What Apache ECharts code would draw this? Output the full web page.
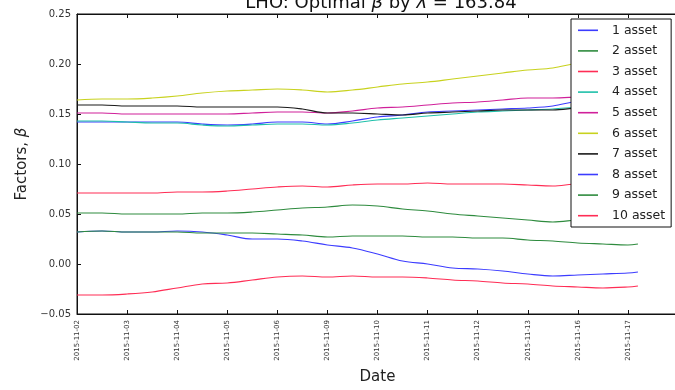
<!DOCTYPE html>
<html>
<head>
<meta charset="utf-8">
<script src="https://cdn.jsdelivr.net/npm/echarts@6/dist/echarts.min.js"></script>
<style>
html,body{margin:0;padding:0;background:#fff;}
#chart{width:675px;height:390px;}
</style>
</head>
<body>
<div id="chart"></div>
<script>
// Tick labels (one per trading day, index 0..11)
const dateLabels = ['2015-11-02','2015-11-03','2015-11-04','2015-11-05','2015-11-06','2015-11-09',
                    '2015-11-10','2015-11-11','2015-11-12','2015-11-13','2015-11-16','2015-11-17'];
// Sample positions (in trading-day index units)
const xIdx = [0,0.5,1,1.5,2,2.5,3,3.5,4,4.5,5,5.5,6,6.5,7,7.5,8,8.5,9,9.5,10,10.5,11,11.2];
const seriesNames = ['1 asset','2 asset','3 asset','4 asset','5 asset','6 asset','7 asset','8 asset','9 asset','10 asset'];
const s1  = [.142,.142,.142,.142,.142,.140,.139,.140,.142,.142,.140,.143,.147,.149,.152,.153,.154,.155,.156,.158,.163,.165,.166,.166];
const s2  = [.051,.051,.050,.050,.050,.051,.051,.052,.054,.056,.057,.059,.058,.055,.053,.050,.048,.046,.044,.042,.044,.045,.046,.046];
const s3  = [.071,.071,.071,.071,.072,.072,.073,.075,.077,.078,.077,.079,.080,.080,.081,.080,.080,.080,.079,.078,.080,.080,.081,.081];
const s4  = [.143,.143,.142,.141,.141,.139,.138,.139,.140,.140,.139,.141,.144,.146,.148,.150,.152,.153,.154,.155,.157,.158,.159,.159];
const s5  = [.151,.151,.150,.150,.150,.150,.150,.151,.152,.152,.151,.153,.156,.157,.159,.161,.162,.164,.166,.166,.167,.168,.168,.168];
const s6  = [.164,.165,.165,.166,.168,.171,.173,.174,.175,.174,.172,.174,.177,.180,.182,.185,.188,.191,.194,.196,.201,.203,.205,.206];
const s7  = [.159,.159,.158,.158,.158,.157,.157,.157,.157,.155,.151,.151,.150,.149,.151,.152,.153,.154,.154,.154,.156,.157,.158,.158];
const s8  = [.032,.033,.032,.032,.033,.032,.029,.025,.025,.023,.019,.016,.010,.003,.000,-.004,-.005,-.007,-.010,-.012,-.011,-.010,-.009,-.008];
const s9  = [.032,.033,.032,.032,.032,.031,.031,.031,.030,.029,.027,.028,.028,.028,.027,.027,.026,.026,.024,.023,.021,.020,.019,.020];
const s10 = [-.031,-.031,-.030,-.028,-.024,-.020,-.019,-.016,-.013,-.012,-.013,-.012,-.013,-.013,-.014,-.016,-.017,-.019,-.020,-.022,-.023,-.024,-.023,-.022];
const allSeries = [s1,s2,s3,s4,s5,s6,s7,s8,s9,s10];
const colors = ['#3c3cff','#2e8b3e','#ff2d55','#1fc0aa','#d0209a','#c8d21e','#1a1a1a','#3c3cff','#2e8b3e','#ff2d55'];

const chart = echarts.init(document.getElementById('chart'), null, {renderer:'canvas'});
const font = 'DejaVu Sans';
chart.setOption({
  animation: false,
  backgroundColor: '#fff',
  color: colors,
  title: {
    text: '{n|LHO: Optimal }{i|β}{n| by }{i|λ}{n| = 163.84}',
    left: 376, textAlign: 'center', top: -11,
    textStyle: {
      fontWeight: 'normal',
      rich: {
        n: {fontFamily: font, fontSize: 18, color: '#111', fontWeight: 'normal'},
        i: {fontFamily: font, fontSize: 18, color: '#111', fontStyle: 'italic', fontWeight: 'normal'}
      }
    }
  },
  grid: {left: 77, top: 14, width: 601, height: 300, show: true, borderColor: '#111', borderWidth: 1,
         backgroundColor: 'transparent', containLabel: false, outerBoundsMode: 'none'},
  legend: {
    orient: 'vertical', left: 571, top: 19,
    backgroundColor: '#fff', borderColor: '#111', borderWidth: 1,
    padding: [1, 6, 1, 7],
    itemWidth: 20, itemHeight: 1.6, itemGap: 0,
    icon: 'rect',
    textStyle: {fontFamily: font, fontSize: 12.5, color: '#222', lineHeight: 20.6, padding: [0, 0, 0, 9]},
    data: seriesNames
  },
  xAxis: [{
    type: 'value', min: 0, max: 12, interval: 1,
    name: 'Date', nameLocation: 'middle', nameGap: 56,
    nameTextStyle: {fontFamily: font, fontSize: 15, color: '#222'},
    axisLine: {show: true, onZero: false, lineStyle: {color: '#111'}},
    axisTick: {show: true, inside: true, length: 4, lineStyle: {color: '#111'}},
    axisLabel: {
      rotate: 90, fontFamily: font, fontSize: 7, color: '#333', margin: 6,
      formatter: v => dateLabels[Math.round(v)] || ''
    },
    splitLine: {show: false}
  }, {
    type: 'value', min: 0, max: 12, interval: 1, position: 'top',
    axisLine: {show: true, onZero: false, lineStyle: {color: '#111'}},
    axisTick: {show: true, inside: true, length: 4, lineStyle: {color: '#111'}},
    axisLabel: {show: false}, splitLine: {show: false}
  }],
  yAxis: {
    type: 'value', min: -0.05, max: 0.25, interval: 0.05,
    name: '{n|Factors, }{i|β}', nameLocation: 'middle', nameGap: 46,
    nameTextStyle: {fontFamily: font, fontSize: 15, color: '#222',
      rich: {
        n: {fontFamily: font, fontSize: 15, color: '#222'},
        i: {fontFamily: font, fontSize: 15, color: '#222', fontStyle: 'italic'}
      }},
    axisLine: {show: true, onZero: false, lineStyle: {color: '#111'}},
    axisTick: {show: true, inside: true, length: 4, lineStyle: {color: '#111'}},
    axisLabel: {fontFamily: font, fontSize: 10, color: '#333', margin: 6,
      formatter: v => (v < 0 ? '\u2212' : '') + Math.abs(v).toFixed(2)},
    splitLine: {show: false}
  },
  series: allSeries.map((arr, k) => ({
    name: seriesNames[k], type: 'line', xAxisIndex: 0,
    data: xIdx.map((x, i) => [x, arr[i]]),
    showSymbol: false, smooth: 0.35,
    lineStyle: {width: 1.2, color: colors[k]},
    itemStyle: {color: colors[k]}
  }))
});
</script>
</body>
</html>
